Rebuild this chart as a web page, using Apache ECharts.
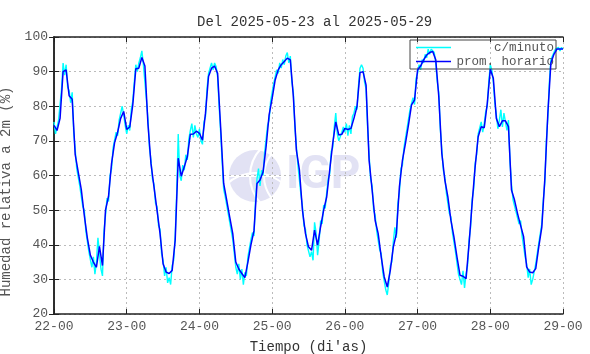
<!DOCTYPE html>
<html>
<head>
<meta charset="utf-8">
<script src="https://cdn.jsdelivr.net/npm/echarts@6/dist/echarts.min.js"></script>
<style>
  html, body { margin: 0; padding: 0; background: #fff; }
  #chart { width: 590px; height: 354px; }
</style>
</head>
<body>
<div id="chart"></div>
<script>
// etiquetas del eje x (cada 24 h)
var dayLabels = ['22-00', '23-00', '24-00', '25-00', '26-00', '27-00', '28-00', '29-00']

// promedio horario (una lectura por hora, dia por dia)
var hour22 = [74.5, 73, 76.5, 90, 90.5, 83, 82, 66, 61, 56, 48.5, 42, 37, 35, 33.5, 39.5, 34, 50, 54, 63.5, 69.5, 72.5, 76.5, 78.5]
var hour23 = [73.3, 74, 80.4, 90.8, 91, 94.1, 91.6, 75, 63.5, 56.7, 50, 43.2, 34.5, 32.1, 31.7, 32.6, 41.3, 65, 59.8, 62.5, 65.4, 71.9, 72, 72.8]
var hour24 = [72.2, 70.2, 78, 88.6, 91, 91.6, 89.5, 74, 57.7, 52.9, 48, 43.2, 35, 33, 31.7, 30.5, 35, 40, 44, 57.7, 58.7, 61, 68.3, 77.5]
var hour25 = [82.3, 87.6, 90.5, 92, 92.9, 93.9, 93.4, 82.8, 67.3, 61.6, 50, 43.2, 39.4, 38.4, 44.2, 39.9, 45.2, 50, 53.8, 61.6, 69.3, 75.5, 71.7, 71.9]
var hour26 = [73.6, 73.3, 73.6, 76.5, 79.9, 89.7, 90, 86.1, 64.4, 55.8, 47, 43.2, 36.5, 30.7, 27.8, 32.6, 39.4, 43.2, 56.7, 64.4, 69.3, 74.6, 80.4, 81.8]
var hour27 = [90.5, 91.6, 93.4, 94.8, 95.5, 95.8, 93.4, 82.8, 66.4, 58.7, 53.8, 47.1, 42.3, 36.5, 31.2, 30.9, 30.2, 40.3, 51.9, 62.5, 71.2, 74.1, 73.8, 80.8]
var hour28 = [90.7, 88.1, 76.5, 74.1, 75.8, 75.8, 74.1, 55.8, 52.9, 49, 45.6, 42.3, 33.6, 32.1, 31.9, 33.1, 39.4, 45, 59, 78, 92.5, 95, 96.5, 96.5]
var hourEnd = [96.5]

// lecturas c/minuto (leidas cada media hora)
var min22 = [75.5, 72, 74, 76, 75.5, 85, 92.5, 89, 92, 85.5, 84.5, 81, 84, 72.5, 67.5, 62, 62, 57, 57.5, 51, 50, 44, 43.5, 38, 38.5, 33.5, 36.5, 31.5, 35, 42, 37.5, 33, 31, 44, 48.5, 53.5, 52.5, 60, 62, 68, 68.5, 72.5, 71.5, 76, 75.5, 80, 77.5, 74.5]
var min23 = [72, 74.5, 73, 79, 81.5, 87, 92, 90, 92.5, 94, 96, 92, 92.5, 82, 76.5, 68, 64.5, 59, 57.5, 52, 51, 45.5, 44.5, 37.5, 35.5, 31, 33.5, 29, 30.5, 28.5, 34, 35.5, 42.5, 55, 72, 60, 58.5, 63, 61.5, 66, 64.5, 70.5, 73, 75, 71, 74.5, 72, 71]
var min24 = [73.5, 70, 69, 75.5, 77, 85, 89.5, 91, 92.5, 90.5, 92.5, 91.5, 88.5, 80, 72.5, 64, 56, 54, 51.5, 49, 46.5, 44, 41.5, 37.5, 33.5, 31.5, 34.5, 30, 33, 28.5, 32, 31, 36.5, 36, 41.5, 43.5, 42.5, 52.5, 59, 62, 57, 61.5, 60, 66.5, 67, 74.5, 76, 81.5]
var min25 = [81, 86.5, 86.5, 90.5, 89.5, 92.5, 91, 93.5, 92, 94.5, 95.5, 92.5, 94.5, 87, 84, 74, 68.5, 63, 62.5, 54.5, 51, 45.5, 44.5, 40, 40.5, 36.5, 38, 35.5, 46.5, 43.5, 37, 41, 47, 46, 51.5, 50.5, 55, 59, 60.5, 67, 68, 74, 78, 72, 70, 69.5, 72.5, 74]
var min26 = [72.5, 75, 71.5, 74.5, 72, 77, 78, 80, 79, 86, 91, 92, 91, 87, 85, 74, 66, 59, 57, 50, 48.5, 44, 44.5, 38.5, 37.5, 32, 31.5, 27, 25.5, 29, 34, 35, 41, 45, 42, 52, 55, 62, 63, 68, 68, 73.5, 73.5, 79, 79, 82.5, 80.5, 88]
var min27 = [89.5, 92, 90.5, 93.5, 92.5, 95, 94, 96.5, 95, 96.5, 97, 95.5, 92.5, 87, 84, 73.5, 67.5, 61.5, 59.5, 55, 55, 49, 48, 43.5, 43.5, 38, 37.5, 31.5, 32, 28.5, 32.5, 27.5, 31.5, 34, 41.5, 45, 53, 56, 63.5, 66, 72, 71.5, 75.5, 72.5, 75, 78.5, 80, 87]
var min28 = [92, 90.5, 87, 81, 77.5, 73.5, 76, 79, 74, 78, 77.5, 73, 76, 64, 57.5, 53, 53.5, 49.5, 50, 46, 47, 42.5, 43, 36.5, 34.5, 30.5, 33, 28.5, 30, 29.5, 34.5, 35, 40.5, 41, 46, 53, 58, 70, 77, 87, 93.5, 93, 95.5, 96.5, 96.5, 97, 96, 97]
var minEnd = [96.5]

var hourly = [].concat(hour22, hour23, hour24, hour25, hour26, hour27, hour28, hourEnd)
var perMinute = [].concat(min22, min23, min24, min25, min26, min27, min28, minEnd)

var hourData = hourly.map(function (v, i) { return [i, v] })
var minuteData = perMinute.map(function (v, i) { return [i / 2, v] })

var textGray = '#555'
var monoFont = '"Liberation Mono", "DejaVu Sans Mono", monospace'
var logoColor = '#e2e2f4'

var myChart = echarts.init(document.getElementById('chart'))
myChart.setOption({
  backgroundColor: '#fff',
  animation: false,
  title: {
    text: 'Del 2025-05-23 al 2025-05-29',
    left: 192,
    top: 10,
    textStyle: { fontFamily: monoFont, fontSize: 14, fontWeight: 'normal', color: '#333' }
  },
  legend: {
    left: 410,
    top: 40,
    orient: 'vertical',
    padding: [1, 2, 1, 6],
    itemGap: 1,
    itemWidth: 35,
    itemHeight: 12,
    borderColor: '#444',
    borderWidth: 1,
    data: [
      { name: 'c/minuto', icon: 'path://M0,5.5 L35,5.5 L35,6.9 L0,6.9 Z', itemStyle: { color: '#00ffff', borderWidth: 0, opacity: 1 } },
      { name: 'prom. horario', icon: 'path://M0,5.3 L35,5.3 L35,6.9 L0,6.9 Z', itemStyle: { color: '#0000ff', borderWidth: 0, opacity: 1 } }
    ],
    formatter: function (name) { return '{t|' + name + '}' },
    textStyle: {
      fontFamily: monoFont,
      fontSize: 12.5,
      color: textGray,
      rich: { t: { width: 98, align: 'right', fontFamily: monoFont, fontSize: 12.5, color: textGray } }
    }
  },
  grid: { left: 54, right: 27, top: 37, bottom: 40, outerBoundsMode: 'none', containLabel: false },
  //marca de agua IGP
  graphic: [
    { type: 'circle', z: 0, silent: true, shape: { cx: 255, cy: 176, r: 26 }, style: { fill: logoColor } },
    { type: 'arc', z: 0, silent: true, shape: { cx: 290, cy: 176, r: 40, startAngle: 2.4, endAngle: 3.9 }, style: { stroke: '#fff', lineWidth: 2, fill: null } },
    { type: 'arc', z: 0, silent: true, shape: { cx: 300, cy: 176, r: 36, startAngle: 2.5, endAngle: 3.8 }, style: { stroke: '#fff', lineWidth: 2, fill: null } },
    { type: 'line', z: 0, silent: true, shape: { x1: 229, y1: 176, x2: 281, y2: 176 }, style: { stroke: '#fff', lineWidth: 2 } },
    { type: 'arc', z: 0, silent: true, shape: { cx: 255, cy: 215, r: 42, startAngle: 3.75, endAngle: 5.67 }, style: { stroke: '#fff', lineWidth: 2, fill: null } },
    { type: 'text', z: 0, silent: true, left: 286, top: 153, style: { text: 'IGP', fontFamily: 'Roboto, sans-serif', fontWeight: 'bold', fontSize: 46, fill: logoColor } }
  ],
  xAxis: [{
    type: 'value',
    min: 0,
    max: 168,
    interval: 24,
    name: "Tiempo (di'as)",
    nameLocation: 'middle',
    nameGap: 26,
    nameTextStyle: { fontFamily: monoFont, fontSize: 14, color: '#333' },
    axisLine: { lineStyle: { color: '#222', width: 1.5 } },
    axisTick: { inside: true, length: 5, lineStyle: { color: '#222' } },
    axisLabel: {
      fontFamily: monoFont, fontSize: 13, color: textGray, margin: 6,
      formatter: function (v) { return dayLabels[Math.round(v / 24)] }
    },
    splitLine: { show: true, lineStyle: { color: '#bbb', type: [2, 3] } }
  }, {
    type: 'value',
    position: 'top',
    min: 0,
    max: 168,
    interval: 24,
    axisLine: { lineStyle: { color: '#222', width: 1.5 } },
    axisTick: { inside: true, length: 5, lineStyle: { color: '#222' } },
    axisLabel: { show: false },
    splitLine: { show: false }
  }],
  yAxis: [{
    type: 'value',
    min: 20,
    max: 100,
    interval: 10,
    name: 'Humedad relativa a 2m (%)',
    nameLocation: 'middle',
    nameGap: 28,
    nameTextStyle: { fontFamily: monoFont, fontSize: 14, color: textGray, padding: [0, 32, 0, 0] },
    axisLine: { show: true, lineStyle: { color: '#222', width: 1.5 } },
    axisTick: { show: true, inside: true, length: 5, lineStyle: { color: '#222' } },
    axisLabel: { fontFamily: monoFont, fontSize: 13, color: textGray, margin: 6 },
    splitLine: { show: true, lineStyle: { color: '#bbb', type: [2, 3] } }
  }, {
    type: 'value',
    position: 'right',
    min: 20,
    max: 100,
    interval: 10,
    axisLine: { show: true, lineStyle: { color: '#222', width: 1.5 } },
    axisTick: { show: true, inside: true, length: 5, lineStyle: { color: '#222' } },
    axisLabel: { show: false },
    splitLine: { show: false }
  }],
  series: [{
    name: 'c/minuto',
    type: 'line',
    symbol: 'none',
    data: minuteData,
    lineStyle: { color: '#00ffff', width: 1.4 },
    itemStyle: { color: '#00ffff' },
    z: 3
  }, {
    name: 'prom. horario',
    type: 'line',
    symbol: 'none',
    data: hourData,
    lineStyle: { color: '#0000ff', width: 1.5 },
    itemStyle: { color: '#0000ff' },
    z: 4
  }]
})
</script>
</body>
</html>
